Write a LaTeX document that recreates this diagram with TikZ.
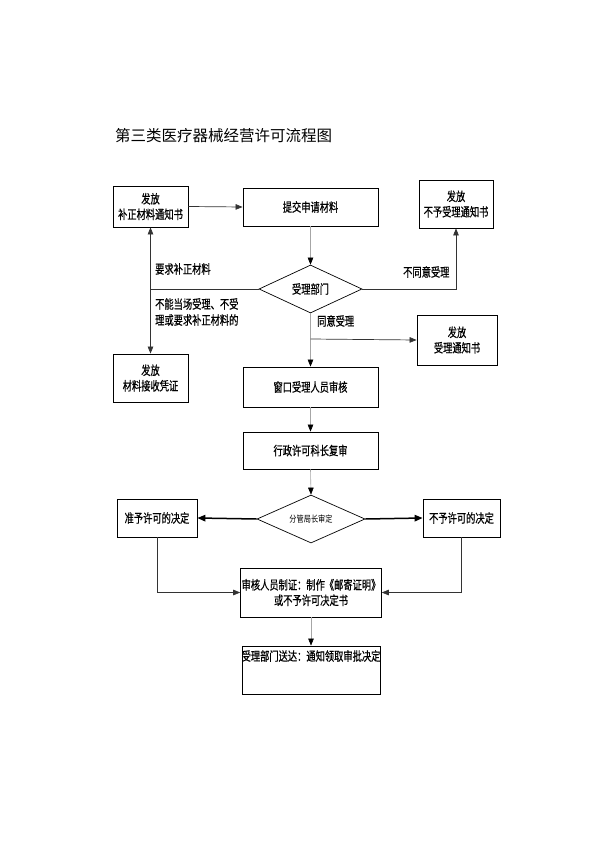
\documentclass[tikz,border=0pt]{standalone}
\usepackage{fontspec}
\newfontfamily\cjk[FakeStretch=0.74,FakeBold=0.6]{Noto Sans CJK SC}
\newfontfamily\cjksmall[FakeStretch=0.8]{Noto Sans CJK SC}
\newfontfamily\cjktitle{Noto Sans CJK SC}
\usetikzlibrary{shapes.geometric,arrows.meta}
\begin{document}
\begin{tikzpicture}[x=1pt,y=-1pt,
  box/.style={draw=black,line width=0.8pt,inner sep=1pt,align=center,
    font=\cjk\fontsize{12.5}{15.5}\selectfont},
  dia/.style={draw=black,line width=0.7pt,diamond,aspect=2.1,inner sep=0pt,
    font=\cjk\fontsize{12.5}{15}\selectfont},
  lbl/.style={font=\cjk\fontsize{12.5}{16}\selectfont,inner sep=0pt,align=left},
  arr/.style={line width=0.7pt,draw=black!80,-{Triangle[length=7pt,width=5.5pt]}},
  garr/.style={line width=0.6pt,draw=black!35,-{Triangle[length=7pt,width=5.5pt,color=black]}},
  tarr/.style={line width=1.5pt,draw=black,-{Triangle[length=8pt,width=6.5pt]}},
  ln/.style={line width=0.7pt,draw=black!80}]
\useasboundingbox (0,0) rectangle (599,848);
\fill[white] (0,0) rectangle (599,848);

\node[anchor=west,inner sep=0pt,font=\cjktitle\fontsize{15.5}{18}\selectfont] (title) at (115,136) {第三类医疗器械经营许可流程图};

\node[box,minimum width=75pt,minimum height=41pt] (bfa) at (150.5,206.5) {发放\\补正材料通知书};
\node[box,minimum width=135pt,minimum height=38pt] (tj) at (310.5,207) {提交申请材料};
\node[box,minimum width=74pt,minimum height=48pt] (bsl) at (456,204) {发放\\不予受理通知书};
\node[dia,minimum width=103pt,minimum height=48pt] (d1) at (310.5,289) {受理部门};
\node[box,minimum width=75pt,minimum height=48pt] (cl) at (150.5,378) {发放\\材料接收凭证};
\node[box,minimum width=80pt,minimum height=50pt] (sl) at (457,340) {发放\\受理通知书};
\node[box,minimum width=135pt,minimum height=40pt] (ck) at (310.5,387) {窗口受理人员审核};
\node[box,minimum width=135pt,minimum height=37pt] (xz) at (310.5,450.5) {行政许可科长复审};
\node[dia,minimum width=108pt,minimum height=48pt,font=\cjksmall\fontsize{9}{11}\selectfont] (d2) at (311,519) {分管局长审定};
\node[box,minimum width=80pt,minimum height=38pt] (zy) at (157,518) {准予许可的决定};
\node[box,minimum width=77pt,minimum height=38pt] (by) at (461.5,518) {不予许可的决定};
\node[box,minimum width=136pt,minimum height=49pt] (sh) at (311,592.5) {审核人员制证：制作《邮寄证明》\\或不予许可决定书};
\node[box,minimum width=138pt,minimum height=48pt] (sd) at (311,670) {};
\node[lbl,anchor=north] (sdt) at (311,650) {受理部门送达：通知领取审批决定};

\node[lbl,anchor=west] (l1) at (155,269) {要求补正材料};
\node[lbl,anchor=west] (l2) at (403,272) {不同意受理};
\node[lbl,anchor=north west] (l3) at (155,298) {不能当场受理、不受\\理或要求补正材料的};
\node[lbl,anchor=west] (l4) at (317,321) {同意受理};

\coordinate (br) at (310.5,339);

\draw[arr] (bfa.east) -- (tj.west);
\draw[garr] (tj.south) -- (d1.north);
\draw[arr] (d1.west) -| (bfa.south);
\draw[arr] (d1.west) -| (cl.north);
\draw[arr] (d1.east) -| (bsl.south);
\draw[garr] (d1.south) -- (ck.north);
\draw[arr] (br) -- (sl.west);
\draw[garr] (ck.south) -- (xz.north);
\draw[garr] (xz.south) -- (d2.north);
\draw[tarr] (d2.west) -- (zy.east);
\draw[tarr] (d2.east) -- (by.west);
\draw[arr] (zy.south) |- (sh.west);
\draw[arr] (by.south) |- (sh.east);
\draw[garr] (sh.south) -- (sd.north);
\end{tikzpicture}
\end{document}
